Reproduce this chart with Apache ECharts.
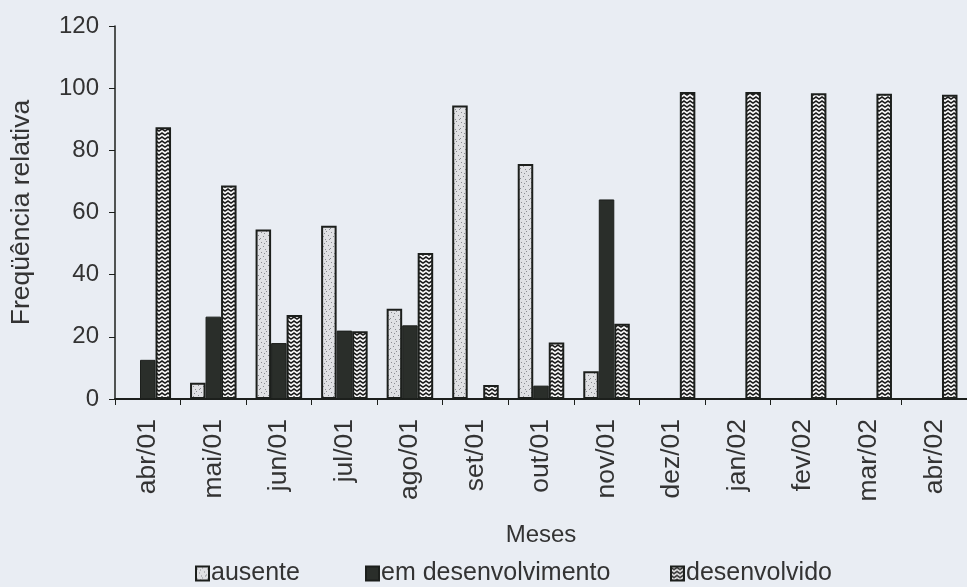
<!DOCTYPE html>
<html>
<head>
<meta charset="utf-8">
<script src="https://cdn.jsdelivr.net/npm/echarts@6/dist/echarts.min.js"></script>
<style>
  html, body { margin: 0; padding: 0; background: #e9edf3; }
  #chart { width: 967px; height: 587px; }
</style>
</head>
<body>
<div id="chart"></div>
<script>
// Monthly relative frequency per development class
const meses = ['abr/01', 'mai/01', 'jun/01', 'jul/01', 'ago/01', 'set/01', 'out/01',
               'nov/01', 'dez/01', 'jan/02', 'fev/02', 'mar/02', 'abr/02'];
const ausente = [0, 5.2, 54.5, 55.7, 29, 94.4, 75.6, 8.9, 0, 0, 0, 0, 0];
const emDesenvolvimento = [12.6, 26.5, 18, 22, 23.7, 0, 4.3, 64.2, 0, 0, 0, 0, 0];
const desenvolvido = [87.4, 68.7, 27, 21.8, 47, 4.5, 18.2, 24.2, 98.8, 98.8, 98.4, 98.2, 97.9];
const yTicks = { min: 0, max: 120, interval: 20 };

const FONT = '"Liberation Sans", Arial, sans-serif';
const TEXT = '#333333';
const INK = '#1c1f1c';

// Zigzag fill used for the "desenvolvido" bars
function zigzagPattern() {
  const c = document.createElement('canvas');
  c.width = 6; c.height = 4;
  const g = c.getContext('2d');
  g.fillStyle = '#f6f6f6';
  g.fillRect(0, 0, 6, 4);
  g.strokeStyle = '#1a1a1a';
  g.lineWidth = 1.5;
  g.beginPath();
  g.moveTo(-3, 3); g.lineTo(0, 1); g.lineTo(3, 3); g.lineTo(6, 1); g.lineTo(9, 3);
  g.stroke();
  return c;
}

// Light stippled fill used for the "ausente" bars
function stipplePattern() {
  const c = document.createElement('canvas');
  c.width = 10; c.height = 10;
  const g = c.getContext('2d');
  g.fillStyle = '#e0e1e4';
  g.fillRect(0, 0, 10, 10);
  const specks = [[1, 2], [6, 1], [3, 6], [8, 5], [5, 9], [0, 8], [9, 9], [4, 3]];
  g.fillStyle = '#8a8c90';
  specks.forEach(p => g.fillRect(p[0], p[1], 1, 1));
  return c;
}

const chart = echarts.init(document.getElementById('chart'), null, { renderer: 'canvas' });

const barBase = {
  type: 'bar',
  barGap: '0%',
  barCategoryGap: '29%',
  animation: false
};

const legendText = { fontSize: 25, color: TEXT, fontFamily: FONT, padding: [0, 0, 0, -3] };
const legendBase = { top: 556, itemWidth: 13, itemHeight: 14, icon: 'rect', textStyle: legendText };

chart.setOption({
  backgroundColor: '#e9edf3',
  textStyle: { fontFamily: FONT },
  grid: { left: 115, right: -16, top: 26, bottom: 188, containLabel: false },
  legend: [
    Object.assign({ data: ['ausente'], left: 190 }, legendBase),
    Object.assign({ data: ['em desenvolvimento'], left: 360 }, legendBase),
    Object.assign({ data: ['desenvolvido'], left: 665 }, legendBase)
  ],
  xAxis: {
    type: 'category',
    data: meses,
    boundaryGap: true,
    name: 'Meses',
    nameLocation: 'middle',
    nameGap: 124,
    nameTextStyle: { fontSize: 24, color: TEXT, fontFamily: FONT },
    axisLine: { lineStyle: { color: INK, width: 2 } },
    axisTick: { show: true, length: 6, inside: false, lineStyle: { color: INK, width: 1 } },
    axisLabel: { rotate: 90, fontSize: 26.5, color: TEXT, fontFamily: FONT, margin: 20, interval: 0 }
  },
  yAxis: {
    type: 'value',
    min: yTicks.min,
    max: yTicks.max,
    interval: yTicks.interval,
    name: 'Freqüência relativa',
    nameLocation: 'middle',
    nameRotate: 90,
    nameGap: 80,
    nameTextStyle: { fontSize: 26.5, color: TEXT, fontFamily: FONT },
    splitLine: { show: false },
    axisLine: { show: true, lineStyle: { color: INK, width: 1.5 } },
    axisTick: { show: true, length: 6, lineStyle: { color: INK, width: 1 } },
    axisLabel: { fontSize: 24, color: TEXT, fontFamily: FONT, margin: 16 }
  },
  series: [
    Object.assign({}, barBase, {
      name: 'ausente',
      data: ausente,
      itemStyle: { color: { image: stipplePattern(), repeat: 'repeat' }, borderColor: INK, borderWidth: 2 }
    }),
    Object.assign({}, barBase, {
      name: 'em desenvolvimento',
      data: emDesenvolvimento,
      itemStyle: { color: '#2a2e2a', borderColor: INK, borderWidth: 1 }
    }),
    Object.assign({}, barBase, {
      name: 'desenvolvido',
      data: desenvolvido,
      itemStyle: { color: { image: zigzagPattern(), repeat: 'repeat' }, borderColor: INK, borderWidth: 2 }
    })
  ]
});
</script>
</body>
</html>
